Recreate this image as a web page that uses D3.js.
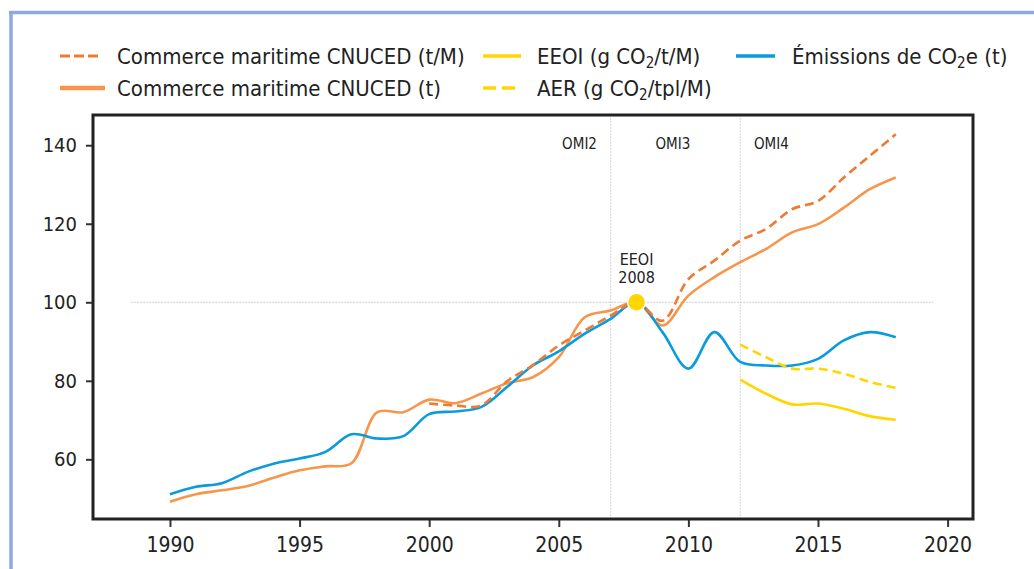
<!DOCTYPE html>
<html>
<head>
<meta charset="utf-8">
<script src="https://cdn.jsdelivr.net/npm/d3@7"></script>
<style>
    body { margin: 0; background: #fff; }
    svg text { font-family: "DejaVu Sans Condensed", "DejaVu Sans", sans-serif; font-stretch: condensed; fill: #222; }
</style>
</head>
<body>
<div id="chart"></div>
<script>
// Chart data (index 2008 = 100)
//------------------------------------
var years = d3.range(1990, 2019);
var emissions = [51.1, 53.0, 53.9, 56.8, 58.9, 60.2, 61.9, 66.4, 65.3, 65.9, 71.5, 72.2, 73.3, 78.4, 83.9,
                 87.5, 92.0, 95.8, 100, 92.4, 83.1, 92.4, 84.8, 83.9, 83.9, 85.6, 90.3, 92.4, 91.1];
var tradeT = [49.2, 51.1, 52.1, 53.2, 55.3, 57.2, 58.2, 59.0, 72.0, 72.0, 75.2, 74.3, 76.7, 79.4, 80.9,
              86.0, 96.2, 97.9, 100, 94.1, 101.7, 106.4, 110.2, 113.6, 117.8, 119.9, 124.1, 128.8, 131.8];
var tradeYears = d3.range(2000, 2019);
var tradeTM = [74.2, 73.7, 73.7, 79.9, 84.0, 89.0, 92.8, 96.6, 100, 95.3, 105.9, 110.6, 115.7, 118.7,
               123.7, 125.8, 131.8, 137.3, 142.8];
var ciYears = d3.range(2012, 2019);
var eeoi = [80.3, 76.7, 74.0, 74.2, 72.9, 71.0, 70.1];
var aer = [89.2, 86.0, 83.1, 83.1, 81.8, 79.7, 78.2];
var xTicks = [1990, 1995, 2000, 2005, 2010, 2015, 2020];
var yTicks = [60, 80, 100, 120, 140];
var phases = [{ "year": 2007, "label": "OMI2", "at": 2005.8 },
              { "year": 2012, "label": "OMI3", "at": 2009.4 },
              { "year": null, "label": "OMI4", "at": 2013.2 }];

var colors = {
    "blue": "#0a9bdc",
    "orange": "#f7964b",
    "orangeDark": "#ef7a33",
    "yellow": "#ffd600"
};

//------------------------------------
var W = 1034, H = 569;
var svg = d3.select("#chart").append("svg").attr("width", W).attr("height", H);

// page frame (light blue, top and left)
svg.append("line").attr("x1", 9).attr("x2", 1034).attr("y1", 12.5).attr("y2", 12.5)
    .attr("stroke", "#8eaadb").attr("stroke-width", 3.5);
svg.append("line").attr("x1", 11).attr("x2", 11).attr("y1", 11).attr("y2", H)
    .attr("stroke", "#8eaadb").attr("stroke-width", 3.5);

var plot = { left: 93, right: 973, top: 115, bottom: 519 };

var x = d3.scaleLinear().domain([1987.03, 2020.98]).range([plot.left, plot.right]);
var y = d3.scaleLinear().domain([44.8, 147.7]).range([plot.bottom, plot.top]);

// reference lines
svg.append("line")
    .attr("x1", x(1988.5)).attr("x2", x(2019.45))
    .attr("y1", y(100)).attr("y2", y(100))
    .attr("stroke", "#cfcfcf").attr("stroke-width", 1).attr("stroke-dasharray", "2,1");
phases.forEach(function (p) {
    if (p.year) {
        svg.append("line")
            .attr("x1", x(p.year)).attr("x2", x(p.year))
            .attr("y1", plot.top).attr("y2", plot.bottom)
            .attr("stroke", "#d6d6d6").attr("stroke-width", 1).attr("stroke-dasharray", "2,1");
    }
    svg.append("text").attr("x", x(p.at)).attr("y", y(140.3))
        .attr("text-anchor", "middle").attr("dominant-baseline", "central")
        .style("font-size", "15px").text(p.label);
});

// axes
var xAxis = svg.append("g").attr("transform", "translate(0," + plot.bottom + ")")
    .call(d3.axisBottom(x).tickValues(xTicks).tickFormat(d3.format("d")).tickSize(8).tickPadding(10));
var yAxis = svg.append("g").attr("transform", "translate(" + plot.left + ",0)")
    .call(d3.axisLeft(y).tickValues(yTicks).tickSize(7).tickPadding(9));
[xAxis, yAxis].forEach(function (a) {
    a.select(".domain").remove();
    a.selectAll(".tick line").attr("stroke", "#333").attr("stroke-width", 2);
    a.selectAll(".tick text").style("font-size", "20px").attr("fill", "#222");
});
xAxis.selectAll(".tick text").style("font-size", "21px");

// lines
var line = d3.line()
    .x(function (d) { return x(d[0]); })
    .y(function (d) { return y(d[1]); })
    .curve(d3.curveCatmullRom.alpha(0.5));

function pairs(xs, vs) {
    return xs.map(function (v, i) { return [v, vs[i]]; });
}

var series = [
    { "data": pairs(years, tradeT), "color": colors.orange, "dash": null },
    { "data": pairs(years, emissions), "color": colors.blue, "dash": null },
    { "data": pairs(tradeYears, tradeTM), "color": colors.orangeDark, "dash": "9,5" },
    { "data": pairs(ciYears, eeoi), "color": colors.yellow, "dash": null },
    { "data": pairs(ciYears, aer), "color": colors.yellow, "dash": "9,5" }
];
svg.selectAll("path.series").data(series).enter().append("path")
    .attr("class", "series")
    .attr("d", function (d) { return line(d.data); })
    .attr("fill", "none")
    .attr("stroke", function (d) { return d.color; })
    .attr("stroke-width", 2.6)
    .attr("stroke-dasharray", function (d) { return d.dash; });

// plot frame
svg.append("rect")
    .attr("x", plot.left).attr("y", plot.top)
    .attr("width", plot.right - plot.left).attr("height", plot.bottom - plot.top)
    .attr("fill", "none").attr("stroke", "#222").attr("stroke-width", 3);

// 2008 marker
svg.append("circle").attr("cx", x(2008)).attr("cy", y(100)).attr("r", 9)
    .attr("fill", colors.yellow).attr("stroke", "#fff").attr("stroke-width", 1.5);
svg.append("text").attr("x", x(2008)).attr("y", y(111))
    .attr("text-anchor", "middle").attr("dominant-baseline", "central")
    .style("font-size", "16px").text("EEOI");
svg.append("text").attr("x", x(2008)).attr("y", y(106.4))
    .attr("text-anchor", "middle").attr("dominant-baseline", "central")
    .style("font-size", "16px").text("2008");

//------------------------------------
// legend
var legend = [
    { "x": 60, "y": 56, "len": 38, "tx": 117, "color": colors.orangeDark, "dash": "10,4", "w": 3, "parts": ["Commerce maritime CNUCED (t/M)"] },
    { "x": 60, "y": 88, "len": 45, "tx": 117, "color": colors.orange, "dash": null, "w": 4.5, "parts": ["Commerce maritime CNUCED (t)"] },
    { "x": 483, "y": 56, "len": 38, "tx": 537, "color": colors.yellow, "dash": null, "w": 3.5, "parts": ["EEOI (g CO", "2", "/t/M)"] },
    { "x": 483, "y": 88, "len": 38, "tx": 537, "color": colors.yellow, "dash": "13,6", "w": 3.5, "parts": ["AER (g CO", "2", "/tpl/M)"] },
    { "x": 736, "y": 56, "len": 39, "tx": 792, "color": colors.blue, "dash": null, "w": 3.5, "parts": ["Émissions de CO", "2", "e (t)"] }
];
legend.forEach(function (l) {
    svg.append("line").attr("x1", l.x).attr("x2", l.x + l.len).attr("y1", l.y).attr("y2", l.y)
        .attr("stroke", l.color).attr("stroke-width", l.w).attr("stroke-dasharray", l.dash);
    var t = svg.append("text").attr("x", l.tx).attr("y", l.y + 7.5).style("font-size", "22px");
    l.parts.forEach(function (p, i) {
        if (i === 1) {
            t.append("tspan").attr("dy", 4).style("font-size", "15px").text(p);
        } else {
            t.append("tspan").attr("dy", i === 2 ? -4 : 0).text(p);
        }
    });
});
</script>
</body>
</html>
